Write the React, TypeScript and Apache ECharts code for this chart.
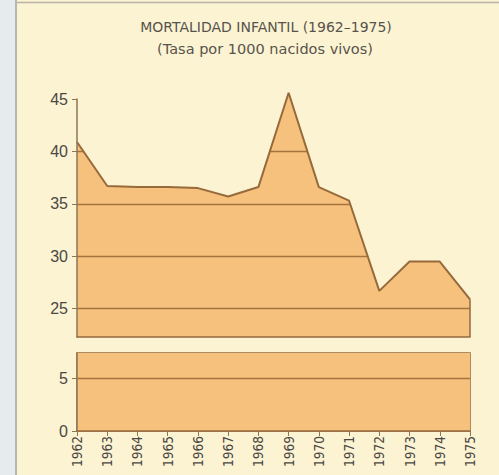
import React, { useEffect, useRef } from "react";
import * as echarts from "echarts";

const YEARS = ["1962", "1963", "1964", "1965", "1966", "1967", "1968", "1969", "1970", "1971", "1972", "1973", "1974", "1975"];
const RATE = [40.9, 36.7, 36.6, 36.6, 36.5, 35.7, 36.6, 45.6, 36.6, 35.3, 26.7, 29.5, 29.5, 25.9];
const UPPER_TICKS = [25, 30, 35, 40, 45];
const UPPER_LINES = [25, 30, 35, 40];
const LOWER_TICKS = [0, 5];
const LOWER_LINES = [5];
const UPPER_MIN = 22.3;
const UPPER_MAX = 45;
const LOWER_MIN = 0;
const LOWER_MAX = 7.4;
const TITLE = "MORTALIDAD INFANTIL (1962\u20131975)";
const SUBTITLE = "(Tasa por 1000 nacidos vivos)";

const BG = "#fcf3d3";
const FILL = "#f6c17c";
const BROWN = "#976a3c";
const GRID = "#a5733f";
const AXIS = "#8e7654";
const TEXT = "#4a4843";

export default function App() {
  const ref = useRef<HTMLDivElement>(null);
  useEffect(() => {
    if (!ref.current) return;
    const chart = echarts.init(ref.current, null, { renderer: "svg" });
    const labelFont = { fontFamily: "Liberation Sans, Arial, sans-serif", fontSize: 16, color: TEXT };
    chart.setOption({
      animation: false,
      backgroundColor: BG,
      title: [
        {
          text: TITLE,
          left: 261,
          top: 15,
          textAlign: "center",
          textStyle: { fontFamily: "DejaVu Sans", fontSize: 14, fontWeight: "normal", color: "#57544c" },
        },
        {
          text: SUBTITLE,
          left: 260,
          top: 36,
          textAlign: "center",
          textStyle: { fontFamily: "DejaVu Sans", fontSize: 14.5, fontWeight: "normal", color: "#57544c" },
        },
      ],
      graphic: [
        { type: "rect", shape: { x: 0, y: 0, width: 15, height: 475 }, style: { fill: "#e6ecee" }, silent: true },
        { type: "line", shape: { x1: 16, y1: 0, x2: 16, y2: 475 }, style: { stroke: "#9ea4a6", lineWidth: 1.5 }, silent: true },
        { type: "line", shape: { x1: 17, y1: 2.5, x2: 499, y2: 2.5 }, style: { stroke: "#b8b3a4", lineWidth: 1.5 }, silent: true },
      ],
      grid: [
        { left: 77, right: 29, top: 99, bottom: 138 },
        { left: 77, right: 29, top: 353, bottom: 44, show: true, borderColor: BROWN, borderWidth: 1.5, backgroundColor: "transparent" },
      ],
      xAxis: [
        {
          gridIndex: 0,
          type: "category",
          boundaryGap: false,
          data: YEARS,
          axisLabel: { show: false },
          axisTick: { show: false },
          axisLine: { show: true, lineStyle: { color: BROWN, width: 1.5 } },
          splitLine: { show: false },
          z: 20,
        },
        {
          gridIndex: 1,
          type: "category",
          boundaryGap: false,
          data: YEARS,
          axisLabel: {
            rotate: 90,
            margin: 5,
            fontFamily: "Liberation Sans Narrow, DejaVu Sans Condensed, sans-serif",
            fontSize: 13.5,
            color: TEXT,
            interval: 0,
          },
          axisTick: { show: true, length: 5, interval: 0, lineStyle: { color: AXIS } },
          axisLine: { show: true, lineStyle: { color: BROWN, width: 1.5 } },
          splitLine: { show: false },
          z: 20,
        },
      ],
      yAxis: [
        {
          gridIndex: 0,
          type: "value",
          min: UPPER_MIN,
          max: UPPER_MAX,
          axisLine: { show: true, lineStyle: { color: AXIS, width: 1.5 } },
          axisTick: { show: true, length: 5, customValues: UPPER_TICKS, lineStyle: { color: AXIS } },
          axisLabel: { ...labelFont, margin: 9, customValues: UPPER_TICKS },
          splitLine: { show: false },
          z: 20,
        },
        {
          gridIndex: 1,
          type: "value",
          min: LOWER_MIN,
          max: LOWER_MAX,
          axisLine: { show: true, lineStyle: { color: AXIS, width: 1.5 } },
          axisTick: { show: true, length: 5, customValues: LOWER_TICKS, lineStyle: { color: AXIS } },
          axisLabel: { ...labelFont, margin: 9, customValues: LOWER_TICKS },
          splitLine: { show: false },
          z: 20,
        },
      ],
      series: [
        {
          name: "fill",
          type: "line",
          xAxisIndex: 0,
          yAxisIndex: 0,
          data: RATE,
          symbol: "none",
          clip: false,
          z: 1,
          lineStyle: { width: 0 },
          areaStyle: { color: FILL, opacity: 1, origin: "start" },
          markLine: {
            z: 5,
            silent: true,
            symbol: "none",
            label: { show: false },
            lineStyle: { color: GRID, width: 1.4, type: "solid" },
            data: UPPER_LINES.map((v) => ({ yAxis: v })),
          },
        },
        {
          name: "cover",
          type: "line",
          xAxisIndex: 0,
          yAxisIndex: 0,
          data: RATE,
          symbol: "none",
          clip: true,
          z: 10,
          lineStyle: { width: 0 },
          areaStyle: { color: BG, opacity: 1, origin: "end" },
        },
        {
          name: "outline",
          type: "line",
          xAxisIndex: 0,
          yAxisIndex: 0,
          data: RATE,
          symbol: "none",
          clip: false,
          z: 11,
          lineStyle: { color: BROWN, width: 2 },
          markLine: {
            z: 12,
            silent: true,
            symbol: "none",
            label: { show: false },
            lineStyle: { color: BROWN, width: 1.5, type: "solid" },
            data: [[{ coord: [YEARS[YEARS.length - 1], UPPER_MIN] }, { coord: [YEARS[YEARS.length - 1], RATE[RATE.length - 1]] }]],
          },
        },
        {
          name: "lower",
          type: "line",
          xAxisIndex: 1,
          yAxisIndex: 1,
          data: RATE,
          symbol: "none",
          clip: true,
          z: 2,
          lineStyle: { width: 0 },
          areaStyle: { color: FILL, opacity: 1, origin: "start" },
          markLine: {
            silent: true,
            symbol: "none",
            label: { show: false },
            lineStyle: { color: GRID, width: 1.4, type: "solid" },
            data: LOWER_LINES.map((v) => ({ yAxis: v })),
          },
        },
      ],
    });
    return () => chart.dispose();
  }, []);
  return <div ref={ref} style={{ position: "absolute", left: 0, top: 0, width: 499, height: 475 }} />;
}
